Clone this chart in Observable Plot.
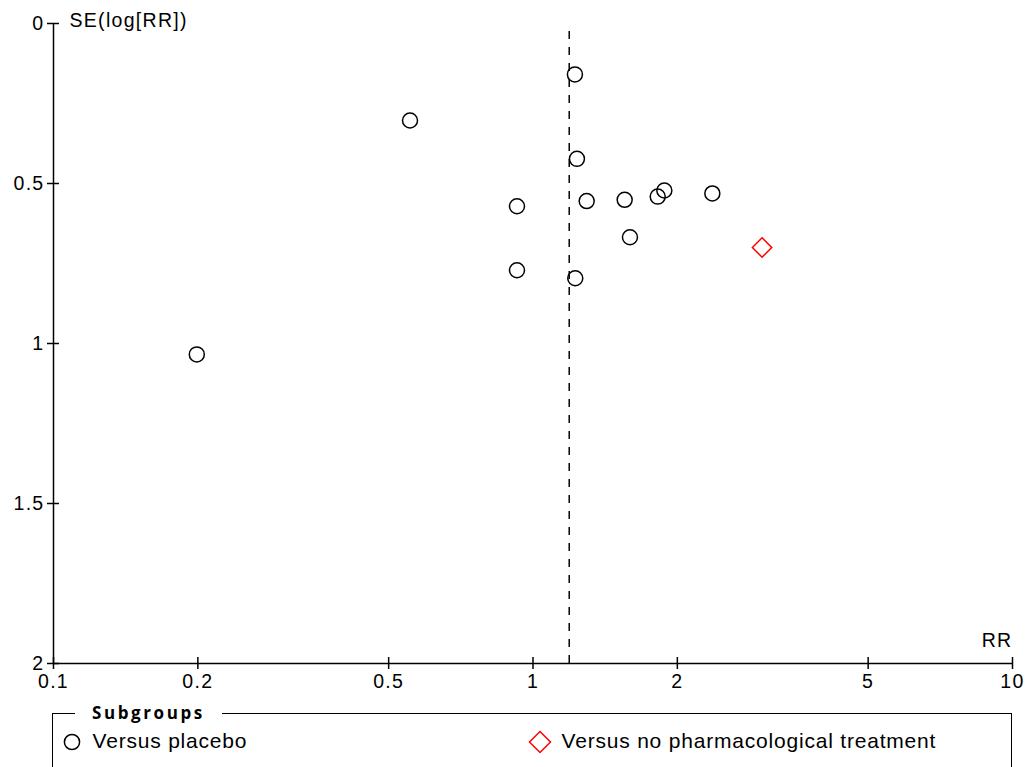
<!DOCTYPE html>
<html>
<head>
<meta charset="utf-8">
<script src="https://cdn.jsdelivr.net/npm/d3@7"></script>
<script src="https://cdn.jsdelivr.net/npm/@observablehq/plot@0.6"></script>
<style>
  html, body { margin: 0; padding: 0; background: #fff; }
  #chart svg { display: block; }
  #legend {
    position: absolute; left: 52px; top: 713px; width: 957.75px; height: 80px;
    border: 1.5px solid #000; border-bottom: none;
    font-family: "Liberation Sans", Arial, sans-serif; font-size: 21px; letter-spacing: 0.8px;
  }
  #legend .title {
    position: absolute; left: 22px; top: -12px; padding: 0 17px; background: #fff;
    font-family: "Open Sans", sans-serif; font-weight: bold; font-size: 17px;
    letter-spacing: 2.6px; line-height: 22px;
  }
  #legend .item { position: absolute; top: 15px; line-height: 24px; white-space: nowrap; }
  #legend svg { position: absolute; overflow: visible; }
</style>
</head>
<body>
<div id="chart"></div>
<div id="legend"></div>
<script>
// Studies compared with placebo: risk ratio and standard error of log(RR)
const placeboRR = [1.223, 0.554, 1.235, 0.926, 1.294, 1.553, 1.820, 1.879, 2.366, 1.593, 0.926, 1.225, 0.199];
const placeboSE = [0.159, 0.303, 0.423, 0.571, 0.555, 0.551, 0.541, 0.522, 0.531, 0.668, 0.771, 0.796, 1.034];

// Study compared with no pharmacological treatment
const noTreatRR = [3.004];
const noTreatSE = [0.700];

// Pooled estimate (vertical reference line)
const pooledRR = 1.19;

const xTicks = [0.1, 0.2, 0.5, 1, 2, 5, 10];
const yTicks = [0, 0.5, 1, 1.5, 2];
const xLabel = "RR";
const yLabel = "SE(log[RR])";
const subgroupTitle = "Subgroups";
const subgroupNames = ["Versus placebo", "Versus no pharmacological treatment"];

const placebo = placeboRR.map((rr, i) => ({rr, se: placeboSE[i]}));
const noTreat = noTreatRR.map((rr, i) => ({rr, se: noTreatSE[i]}));

const chart = Plot.plot({
  width: 1028,
  height: 700,
  marginLeft: 53,
  marginRight: 16,
  marginTop: 23,
  marginBottom: 37,
  style: {
    fontFamily: "'Liberation Sans', Arial, sans-serif",
    fontSize: "19.5px",
    letterSpacing: "1.3px",
    background: "#fff",
    overflow: "visible",
    color: "#000"
  },
  x: {type: "log", domain: [0.1, 10], label: null},
  y: {domain: [0, 2], reverse: true, label: null},
  marks: [
    Plot.ruleX([pooledRR], {y1: 0, y2: 2, stroke: "#000", strokeWidth: 1.5, strokeDasharray: "8,8", strokeDashoffset: 8}),
    Plot.ruleX([0.1], {y1: 0, y2: 2, stroke: "#000", strokeWidth: 1.5}),
    Plot.ruleY([2], {x1: 0.1, x2: 10, stroke: "#000", strokeWidth: 1.5}),
    // tick marks crossing the axis lines
    Plot.axisX(xTicks, {tickSize: 12, dy: -6, strokeWidth: 1.5, tickFormat: () => "", label: null}),
    Plot.axisX(xTicks, {tickSize: 0, tickPadding: 11, tickFormat: d => String(d), label: null}),
    Plot.axisY(yTicks, {tickSize: 12, dx: 6, strokeWidth: 1.5, tickFormat: () => "", label: null}),
    Plot.axisY(yTicks, {tickSize: 0, tickPadding: 9, tickFormat: d => String(d), label: null}),
    Plot.text([yLabel], {frameAnchor: "top-left", dx: 16, dy: -3, textAnchor: "start", lineAnchor: "middle"}),
    Plot.text([xLabel], {frameAnchor: "bottom-right", dy: -17, textAnchor: "end", lineAnchor: "bottom"}),
    Plot.dot(placebo, {x: "rr", y: "se", r: 7.5, stroke: "#000", strokeWidth: 1.5, fill: "none"}),
    Plot.dot(noTreat, {x: "rr", y: "se", r: 8.7, symbol: "diamond2", stroke: "#f00", strokeWidth: 1.5, fill: "none"})
  ]
});
document.getElementById("chart").append(chart);

// Subgroup legend
const legend = document.getElementById("legend");
legend.innerHTML = `
  <span class="title">${subgroupTitle}</span>
  <svg width="1" height="1" style="left:19px; top:27.5px"><circle r="7.6" fill="none" stroke="#000" stroke-width="1.5"/></svg>
  <div class="item" style="left:39.5px">${subgroupNames[0]}</div>
  <svg width="1" height="1" style="left:486.5px; top:27.5px"><polygon points="0,-10.5 10.5,0 0,10.5 -10.5,0" fill="none" stroke="#f00" stroke-width="1.5"/></svg>
  <div class="item" style="left:508.5px">${subgroupNames[1]}</div>
`;
</script>
</body>
</html>
